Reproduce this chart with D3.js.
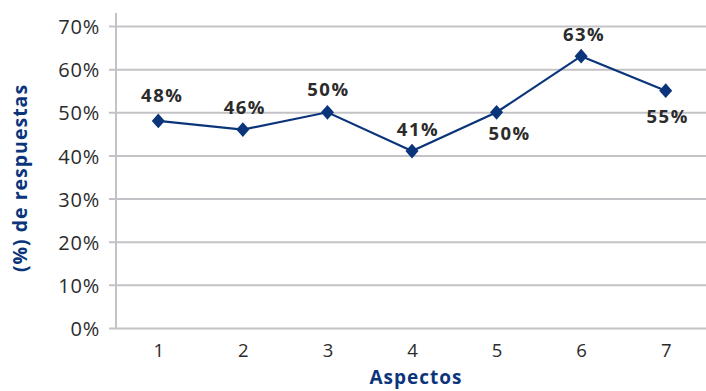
<!DOCTYPE html>
<html>
<head>
<meta charset="utf-8">
<script src="https://cdn.jsdelivr.net/npm/d3@7"></script>
<style>
  html, body { margin: 0; padding: 0; background: #fff; }
  svg { display: block; }
</style>
</head>
<body>
<svg id="chart" width="706" height="391"></svg>
<script>
// Aspect numbers on the x axis
const aspects = ["1", "2", "3", "4", "5", "6", "7"];
// Share of responses per aspect (percent)
const responses = [48, 46, 50, 41, 50, 63, 55];
// Y axis ticks (percent)
const yTicks = [0, 10, 20, 30, 40, 50, 60, 70];
const xTitle = "Aspectos";
const yTitle = "(%) de respuestas";

// Where each value label sits relative to its marker: [dx, baseline dy]
const labelPlacement = [[4, -19], [2, -16], [1, -16], [6, -15], [13, 28], [3, -15], [2, 32]];

const W = 706, H = 391;
const plotLeft = 116, plotRight = 708, plotTop = 13, plotBottom = 328;
const lineColor = "#0b357b";
const gridColor = "#c3c3c7";
const textColor = "#2b2b2b";
const font = "'Open Sans', 'Noto Sans', sans-serif";

const svg = d3.select("#chart");

const x = d3.scalePoint().domain(aspects).range([plotLeft, plotRight]).padding(0.5);
const y = d3.scaleLinear().domain([0, 70]).range([plotBottom, 26]);

// Horizontal gridlines with short tick stubs on the left
const yAxis = d3.axisLeft(y)
  .tickValues(yTicks)
  .tickSize(-(W - plotLeft))
  .tickPadding(16)
  .tickFormat(d => d + "%");

const gy = svg.append("g")
  .attr("transform", `translate(${plotLeft},0)`)
  .call(yAxis);
gy.select(".domain").remove();
gy.selectAll(".tick line")
  .attr("x1", -7)
  .attr("stroke", gridColor)
  .attr("stroke-width", 2);
gy.selectAll(".tick text")
  .attr("fill", textColor)
  .attr("font-family", font)
  .attr("font-size", 20)
  .attr("letter-spacing", "0.8px")
  .attr("dy", "0.38em");

// Vertical axis line
svg.append("line")
  .attr("x1", plotLeft).attr("x2", plotLeft)
  .attr("y1", plotTop).attr("y2", plotBottom + 1)
  .attr("stroke", gridColor)
  .attr("stroke-width", 2);

// X axis labels only
const xAxis = d3.axisBottom(x).tickSize(0).tickPadding(0);
const gx = svg.append("g")
  .attr("transform", `translate(0,${plotBottom})`)
  .call(xAxis);
gx.select(".domain").remove();
gx.selectAll(".tick text")
  .attr("fill", textColor)
  .attr("font-family", font)
  .attr("font-size", 18.5)
  .attr("dy", null)
  .attr("y", 29);

// Series line
const line = d3.line()
  .x((d, i) => x(aspects[i]))
  .y(d => y(d));

svg.append("path")
  .datum(responses)
  .attr("d", line)
  .attr("fill", "none")
  .attr("stroke", lineColor)
  .attr("stroke-width", 2.2);

// Diamond markers
const diamond = d3.symbol().type(d3.symbolDiamond2).size(120);
svg.append("g")
  .selectAll("path")
  .data(responses)
  .join("path")
  .attr("d", diamond)
  .attr("transform", (d, i) => `translate(${x(aspects[i])},${y(d)}) scale(0.95,1.08)`)
  .attr("fill", lineColor);

// Value labels
svg.append("g")
  .selectAll("text")
  .data(responses)
  .join("text")
  .attr("x", (d, i) => x(aspects[i]) + labelPlacement[i][0])
  .attr("y", (d, i) => y(d) + labelPlacement[i][1])
  .attr("text-anchor", "middle")
  .attr("font-family", font)
  .attr("font-weight", 700)
  .attr("font-size", 18.5)
  .attr("letter-spacing", "1.5px")
  .attr("fill", textColor)
  .text(d => d + "%");

// Axis titles
svg.append("text")
  .attr("x", 416)
  .attr("y", 384)
  .attr("text-anchor", "middle")
  .attr("font-family", font)
  .attr("font-weight", 700)
  .attr("font-size", 19)
  .attr("letter-spacing", "1px")
  .attr("fill", lineColor)
  .text(xTitle);

svg.append("text")
  .attr("transform", "translate(27,178) rotate(-90)")
  .attr("text-anchor", "middle")
  .attr("font-family", font)
  .attr("font-weight", 700)
  .attr("font-size", 19.5)
  .attr("letter-spacing", "1px")
  .attr("fill", lineColor)
  .text(yTitle);
</script>
</body>
</html>
